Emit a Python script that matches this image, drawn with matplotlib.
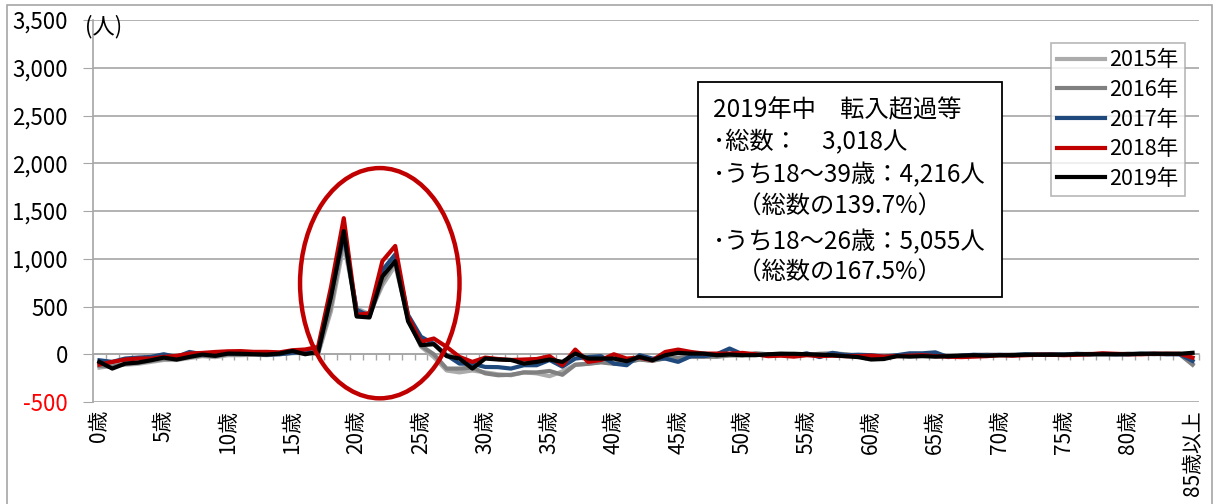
import matplotlib
matplotlib.use("Agg")
import matplotlib.pyplot as plt
from matplotlib.patches import Ellipse, Rectangle

plt.rcParams['font.family'] = ['Noto Sans CJK JP', 'DejaVu Sans']

# ages 0..85 (85 = 85歳以上)
ages = list(range(86))
tick_ages = list(range(0, 86, 5))
tick_labels = [f"{a}歳" for a in tick_ages[:-1]] + ["85歳以上"]

y2015 = [-140, -120, -110, -100, -80, -60, -60, -40, -20, -30,
         -10, -10, -5, -10, 0, 10, 20, 0,
         450, 1150, 480, 420, 720, 930, 380, 80, -30,
         -170, -190, -170, -190, -210, -220, -190, -200, -230, -180,
         -110, -100, -80, -85, -80, -55, -65, -45, -35, -25,
         -25, -25, -15, -10,
         5, 0, 5, -5, -5, 0, 5, 0, -15, -25,
         -30, -15, -10, -15, -10, -20, -15, -10, -5, -10,
         -5, -5, 0, -5, 0, 0, 5, 0, 0, 5,
         0, 5, 0, 5, -100]
y2016 = [-120, -130, -100, -90, -70, -50, -50, -30, -15, -20,
         0, -5, 0, -5, 5, 15, 10, 10,
         500, 1220, 450, 400, 760, 980, 360, 90, 0,
         -150, -150, -140, -200, -220, -215, -190, -190, -175, -215,
         -110, -100, -85, -100, -85, -55, -70, -40, -40, -25,
         -25, -25, -10, -10,
         10, 0, 5, 0, -5, 5, 10, 0, -20, -30,
         -35, -15, -15, -10, -15, -20, -15, -10, -5, -10,
         -5, -5, 0, -5, 0, 0, 0, 0, 0, 5,
         5, 0, 5, 0, -110]
y2017 = [-63, -80, -45, -35, -28, 0, -28, 24, 0, 0,
         7, 7, 5, -3, 0, 15, 25, 15,
         620, 1250, 465, 400, 880, 1045, 412, 183, 110,
         -10, -98, -100, -133, -135, -150, -115, -115, -60, -130,
         -45, -30, -20, -98, -115, -10, -45, -45, -80, -20,
         -20, 0, 60, 0,
         -5, -10, 0, -15, 10, -30, 15, -10, -5, -10,
         -25, -10, 10, 10, 20, -30, -15, -5, -10, -5,
         -10, 0, -5, 0, -5, 5, 0, 5, 0, 0,
         5, 5, 0, 0, -70]
y2018 = [-108, -80, -56, -45, -45, -28, -17, 7, 14, 24,
         31, 33, 25, 25, 20, 42, 50, 77,
         700, 1425, 412, 430, 975, 1134, 394, 130, 165,
         77, -28, -80, -35, -50, -60, -55, -50, -20, -115,
         49, -80, -60, 0, -45, -35, -63, 24, 49, 24,
         7, 7, 7, 14,
         0, -20, -15, -25, -10, -20, -15, -20, -20, -15,
         -25, -20, -15, -10, -20, -25, -30, -25, -20, -10,
         -15, -10, -5, -5, -10, -5, 0, 10, 5, 0,
         0, 5, 5, 5, -35]
y2019 = [-80, -150, -98, -87, -63, -35, -56, -28, -3, -17,
         7, 5, 0, -3, 7, 35, 0, 25,
         600, 1290, 395, 385, 815, 975, 345, 95, 105,
         -20, -45, -150, -45, -55, -60, -98, -80, -55, -80,
         7, -45, -45, -45, -73, -28, -63, -10, 14, 7,
         7, -10, -3, -10,
         -10, 0, 5, 5, 0, -5, -10, -20, -30, -55,
         -50, -20, -25, -20, -25, -20, -15, -10, -15, -10,
         -10, -5, -5, -5, -5, 0, 0, 0, 0, 0,
         5, 5, 5, 5, 15]

series = [("2015年", y2015, "#ABABAB"),
          ("2016年", y2016, "#808080"),
          ("2017年", y2017, "#1F497D"),
          ("2018年", y2018, "#C00000"),
          ("2019年", y2019, "#000000")]

y_ticks = list(range(-500, 3501, 500))

note_lines = ["2019年中　転入超過等",
              "･総数：　3,018人",
              "･うち18～39歳：4,216人",
              "　（総数の139.7%）",
              "･うち18～26歳：5,055人",
              "　（総数の167.5%）"]

W, H = 1215, 504
fig = plt.figure(figsize=(W / 100, H / 100), dpi=100)
ax = fig.add_axes([93 / W, 1 - 402 / H, 1106 / W, 382 / H])

grid_c = "#A6A6A6"
for name, vals, c in series:
    ax.plot(ages, vals, color=c, lw=3, label=name, solid_joinstyle='round', zorder=3)

ax.set_xlim(-0.5, 85.5)
ax.set_ylim(-500, 3500)

# value axis
ax.set_yticks(y_ticks)
ax.set_yticklabels([f"{v:,}" for v in y_ticks], fontsize=16)
ax.get_yticklabels()[0].set_color("red")
ax.tick_params(axis='y', length=7, color=grid_c, pad=11)
ax.grid(axis='y', color=grid_c, lw=1.2)
ax.set_axisbelow(True)

# category axis crosses at 0, labels at the bottom
ax.spines['bottom'].set_position(('data', 0))
ax.spines['bottom'].set_color(grid_c)
ax.spines['bottom'].set_linewidth(1.2)
ax.spines['left'].set_color(grid_c)
ax.spines['left'].set_linewidth(1.2)
ax.spines['top'].set_visible(False)
ax.spines['right'].set_visible(False)
ax.set_xticks(tick_ages)
ax.set_xticklabels(tick_labels, rotation=90, fontsize=15, va='top')
ax.set_xticks([a - 0.5 for a in ages] + [85.5], minor=True)
ax.tick_params(axis='x', which='major', length=0, pad=40)
ax.tick_params(axis='x', which='minor', length=4, color=grid_c, width=1)

# highlight around the 18-26 peak
ax.add_patch(Ellipse((21.8, 744), 12.4, 2411, fill=False, ec="#C00000", lw=3.2,
                     zorder=4, clip_on=False))

fig.text(85 / W, 1 - 27 / H, "(人)", fontsize=16, va='center', ha='left')

# note box
fig.patches.append(Rectangle((698 / W, 1 - 297 / H), 304 / W, 215 / H,
                             transform=fig.transFigure, fc='white', ec='black',
                             lw=1.3, zorder=5))
line_y = [110, 142, 175, 207, 242, 273]
for txt, yy in zip(note_lines, line_y):
    fig.text(713 / W, 1 - yy / H, txt, fontsize=17.5, va='center', ha='left', zorder=6)

leg = ax.legend(loc='upper left', bbox_to_anchor=(1051 / W, 1 - 43 / H),
                bbox_transform=fig.transFigure, fontsize=15.5, frameon=True,
                fancybox=False, edgecolor=grid_c, borderaxespad=0, borderpad=0.3,
                labelspacing=0.35, handlelength=2.2, handletextpad=0.2)
leg.get_frame().set_linewidth(1.2)

# chart area border
fig.patches.append(Rectangle((7 / W, -0.02), 1205 / W, 1.02 - 5 / H,
                             transform=fig.transFigure, fill=False, ec=grid_c, lw=1.2))

fig.savefig("out.png", dpi=100)
